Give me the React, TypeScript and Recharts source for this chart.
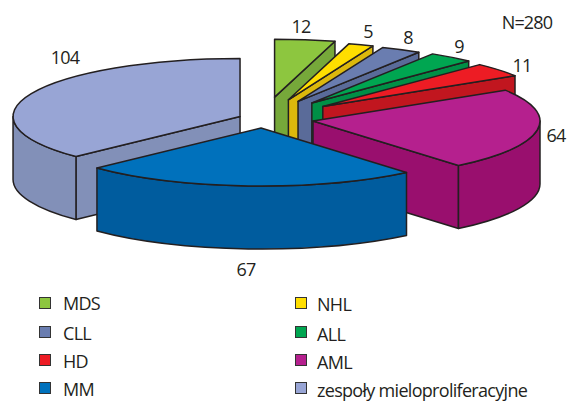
import { Legend, Pie, PieChart } from "recharts";

const categories = ["MDS", "NHL", "CLL", "ALL", "HD", "AML", "MM", "zespoły mieloproliferacyjne"];
const cases = [12, 5, 8, 9, 11, 64, 67, 104];
const topColors = ["#8dc63f", "#ffde00", "#6a7db0", "#00a651", "#ed1c24", "#b5208e", "#0071bc", "#98a5d5"];
const wallColors = ["#76a83a", "#dcb80c", "#5a6b99", "#008f46", "#c1161f", "#990f6e", "#005c9e", "#8290b8"];
// how far each slice is pulled away from the centre, as a share of the radius
const explode = [0.38, 0.35, 0.34, 0.35, 0.34, 0.223, 0.155, 0.11];

const INK = "#231f20";
const RADIUS_X = 227;
const RADIUS_Y = 58;
const DEPTH = 63;
const total = cases.reduce((a, b) => a + b, 0);

// the big slice goes first so the paint order runs back to front
const rows = categories.map((name, i) => ({
  name,
  value: cases[i],
  fill: topColors[i],
  wall: wallColors[i],
  explode: explode[i],
}));
const pieRows = [rows[7], ...rows.slice(0, 7)];
const firstAngle = 90 - (360 * (total - cases[7])) / total;

const labelSpots: Record<string, [number, number]> = {
  MDS: [301, 26],
  NHL: [368, 31],
  CLL: [408, 37],
  ALL: [459, 46],
  HD: [522, 65],
  AML: [556, 135],
  MM: [246, 269],
  "zespoły mieloproliferacyjne": [65, 57],
};

const font = "'Open Sans', sans-serif";

function Slice3D(props: any) {
  const { cx, cy, startAngle, endAngle, fill, payload } = props;
  const wall = payload.wall;
  let from = 90 - startAngle;
  let to = 90 - endAngle;
  if (from >= 359.99) {
    from -= 360;
    to -= 360;
  }
  const mid = (from + to) / 2;
  const rim = (deg: number, r = 1) => {
    const a = (deg * Math.PI) / 180;
    return [RADIUS_X * r * Math.sin(a), -RADIUS_Y * r * Math.cos(a)];
  };
  const [ox, oy] = rim(mid, payload.explode);
  const ax = cx + ox;
  const ay = cy + oy;
  const pt = (deg: number) => {
    const [x, y] = rim(deg);
    return [ax + x, ay + y];
  };
  const [sx, sy] = pt(from);
  const [ex, ey] = pt(to);
  const common = { stroke: INK, strokeWidth: 1.5, strokeLinejoin: "round" as const };

  const frontFrom = Math.max(from, 90);
  const frontTo = Math.min(to, 270);
  let frontWall = null;
  if (frontTo > frontFrom) {
    const [x1, y1] = pt(frontFrom);
    const [x2, y2] = pt(frontTo);
    frontWall = (
      <path
        d={`M${x1},${y1} A${RADIUS_X},${RADIUS_Y} 0 0 1 ${x2},${y2} L${x2},${y2 + DEPTH} A${RADIUS_X},${RADIUS_Y} 0 0 0 ${x1},${y1 + DEPTH} Z`}
        fill={wall}
        {...common}
      />
    );
  }
  const large = to - from > 180 ? 1 : 0;
  return (
    <g>
      {from > 180 && from < 360 && (
        <path d={`M${ax},${ay} L${sx},${sy} L${sx},${sy + DEPTH} L${ax},${ay + DEPTH} Z`} fill={wall} {...common} />
      )}
      {to > 0 && to < 180 && (
        <path d={`M${ax},${ay} L${ex},${ey} L${ex},${ey + DEPTH} L${ax},${ay + DEPTH} Z`} fill={wall} {...common} />
      )}
      {frontWall}
      <path
        d={`M${ax},${ay} L${sx},${sy} A${RADIUS_X},${RADIUS_Y} 0 ${large} 1 ${ex},${ey} Z`}
        fill={fill}
        {...common}
      />
    </g>
  );
}

function sliceLabel(props: any) {
  const [x, y] = labelSpots[props.name];
  return (
    <text x={x} y={y} textAnchor="middle" dominantBaseline="central" fontFamily={font} fontSize={18} letterSpacing={-0.8} fill={INK}>
      {props.value}
    </text>
  );
}

const legendRowsY = [303, 332, 360, 388];

function KeyBlock() {
  return (
    <div style={{ position: "relative", width: 570, height: 401, fontFamily: font, fontSize: 18, letterSpacing: -0.7, color: INK }}>
      {rows.map((row, i) => {
        const col = i % 2;
        const y = legendRowsY[Math.floor(i / 2)];
        return (
          <div key={row.name}>
            <div
              style={{
                position: "absolute",
                left: col ? 295 : 39,
                top: y - 6,
                width: 10,
                height: 10,
                background: row.fill,
                border: "1.5px solid #333",
              }}
            />
            <div style={{ position: "absolute", left: col ? 317 : 63, top: y - 11 + col + (i > 1 ? 1 : 0), lineHeight: "22px", whiteSpace: "nowrap" }}>
              {row.name}
            </div>
          </div>
        );
      })}
    </div>
  );
}

export default function App() {
  return (
    <div style={{ position: "absolute", left: 0, top: 0, width: 570, height: 401, background: "#fff" }}>
      <PieChart width={570} height={401} margin={{ top: 0, right: 0, bottom: 0, left: 0 }}>
        <Pie
          data={pieRows}
          dataKey="value"
          nameKey="name"
          cx={263}
          cy={119}
          outerRadius={RADIUS_X}
          startAngle={firstAngle}
          endAngle={firstAngle - 360}
          shape={Slice3D}
          label={sliceLabel}
          labelLine={false}
          isAnimationActive={false}
        />
        <Legend content={<KeyBlock />} wrapperStyle={{ left: 0, top: 0, width: 570, height: 401, bottom: "auto" }} />
        <text x={527} y={22} textAnchor="middle" dominantBaseline="central" fontFamily={font} fontSize={18} letterSpacing={-0.8} fill={INK}>
          N=280
        </text>
      </PieChart>
    </div>
  );
}
